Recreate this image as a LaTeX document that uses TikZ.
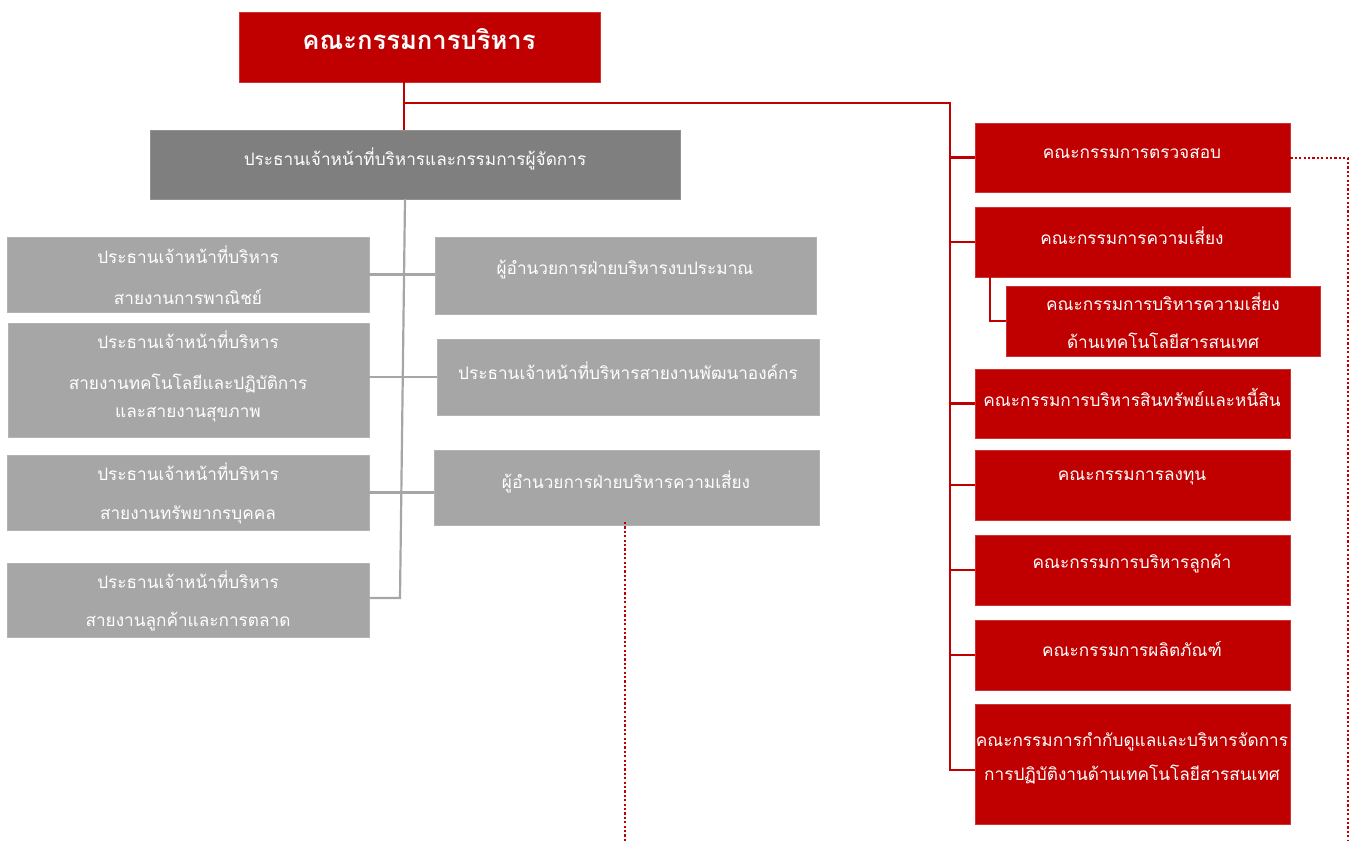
\documentclass[tikz,border=0pt]{standalone}
\usepackage{fontspec}
\newfontfamily\thai[Script=Thai]{Loma}
\usetikzlibrary{fit}
\definecolor{bred}{HTML}{C00000}
\definecolor{dgray}{HTML}{7F7F7F}
\definecolor{lgray}{HTML}{A6A6A6}
\tikzset{
  redbox/.style={fill=bred, draw=bred!80!white, line width=0.4pt, inner sep=0pt},
  dgbox/.style={fill=dgray, draw=dgray!85!white, line width=0.4pt, inner sep=0pt},
  lgbox/.style={fill=lgray, draw=lgray!85!white, line width=0.4pt, inner sep=0pt},
  txt/.style={text=white, font=\thai\fontsize{8.6}{10}\selectfont, inner sep=0pt, align=center},
  ttl/.style={text=white, font=\thai\bfseries\fontsize{12.8}{15}\selectfont, inner sep=0pt},
  redline/.style={draw=bred, line width=1.2pt},
  grayline/.style={draw=lgray, line width=1.1pt},
  dotline/.style={draw=bred, line width=1.2pt, dash pattern=on 1.1pt off 1.1pt}
}
\begin{document}
\begin{tikzpicture}[x=0.5pt,y=-0.5pt]
\useasboundingbox (0,0) rectangle (1357,841);
% boxes
\node[redbox, fit={(239,12) (600,82)}] (top) {};
\node[dgbox, fit={(150,130) (680,199)}] (ceo) {};
\node[lgbox, fit={(7,237) (369,312)}] (l1) {};
\node[lgbox, fit={(8,323) (369,437)}] (l2) {};
\node[lgbox, fit={(7,455) (369,530)}] (l3) {};
\node[lgbox, fit={(7,563) (369,637)}] (l4) {};
\node[lgbox, fit={(435,237) (816,314)}] (r1) {};
\node[lgbox, fit={(437,339) (819,415)}] (r2) {};
\node[lgbox, fit={(434,450) (819,525)}] (r3) {};
\node[redbox, fit={(975,123) (1290,192)}] (c1) {};
\node[redbox, fit={(975,207) (1290,277)}] (c2) {};
\node[redbox, fit={(1006,286) (1320,356)}] (c2b) {};
\node[redbox, fit={(975,369) (1290,438)}] (c3) {};
\node[redbox, fit={(975,450) (1290,520)}] (c4) {};
\node[redbox, fit={(975,535) (1290,605)}] (c5) {};
\node[redbox, fit={(975,620) (1290,690)}] (c6) {};
\node[redbox, fit={(975,704) (1290,824)}] (c7) {};
% texts
\node[ttl] (ttop) at (419,39) {คณะกรรมการบริหาร};
\node[txt] (tceo) at (415,159) {ประธานเจ้าหน้าที่บริหารและกรรมการผู้จัดการ};
\node[txt] (tl1a) at (188,255) {ประธานเจ้าหน้าที่บริหาร};
\node[txt] (tl1b) at (188,297) {สายงานการพาณิชย์};
\node[txt] (tl2a) at (188,340) {ประธานเจ้าหน้าที่บริหาร};
\node[txt] (tl2b) at (188,383) {สายงานทคโนโลยีและปฏิบัติการ};
\node[txt] (tl2c) at (188,415) {และสายงานสุขภาพ};
\node[txt] (tl3a) at (188,472) {ประธานเจ้าหน้าที่บริหาร};
\node[txt] (tl3b) at (188,515) {สายงานทรัพยากรบุคคล};
\node[txt] (tl4a) at (188,580) {ประธานเจ้าหน้าที่บริหาร};
\node[txt] (tl4b) at (188,622) {สายงานลูกค้าและการตลาด};
\node[txt] (tr1) at (625,270) {ผู้อำนวยการฝ่ายบริหารงบประมาณ};
\node[txt] (tr2) at (628,371) {ประธานเจ้าหน้าที่บริหารสายงานพัฒนาองค์กร};
\node[txt] (tr3) at (626,482) {ผู้อำนวยการฝ่ายบริหารความเสี่ยง};
\node[txt] (tc1) at (1132,153) {คณะกรรมการตรวจสอบ};
\node[txt] (tc2) at (1132,236) {คณะกรรมการความเสี่ยง};
\node[txt] (tc2a) at (1163,302) {คณะกรรมการบริหารความเสี่ยง};
\node[txt] (tc2b) at (1163,341) {ด้านเทคโนโลยีสารสนเทศ};
\node[txt] (tc3) at (1132,397) {คณะกรรมการบริหารสินทรัพย์และหนี้สิน};
\node[txt] (tc4) at (1132,478) {คณะกรรมการลงทุน};
\node[txt] (tc5) at (1132,564) {คณะกรรมการบริหารลูกค้า};
\node[txt] (tc6) at (1132,649) {คณะกรรมการผลิตภัณฑ์};
\node[txt] (tc7a) at (1132,742) {คณะกรรมการกำกับดูแลและบริหารจัดการ};
\node[txt] (tc7b) at (1132,774) {การปฏิบัติงานด้านเทคโนโลยีสารสนเทศ};
% red connectors
\coordinate (rt) at (404,82);
\coordinate (rj) at (404,103);
\coordinate (rc) at (950,103);
\coordinate (rb) at (950,770);
\draw[redline] (rt) -- (rt |- ceo.north);
\draw[redline] (rj) -- (rc) -- (rb) -- (rb -| c7.west);
\foreach \n in {c1,c2,c3,c4,c5,c6} {
  \draw[redline] (rc |- \n.west) -- (\n.west);
}
\coordinate (sb) at (990,277);
\draw[redline] (sb) -- (sb |- c2b.west) -- (c2b.west);
% gray connectors
\coordinate (gt) at (405,199);
\coordinate (gb) at (400,598);
\draw[grayline] (gt) -- (gb) -- (gb -| l4.east);
\draw[grayline] (l1.east) -- (l1.east -| r1.west);
\draw[grayline] (l2.east |- r2.west) -- (r2.west);
\draw[grayline] (l3.east) -- (l3.east -| r3.west);
% dotted lines
\coordinate (d1) at (625,522);
\coordinate (d1e) at (625,841);
\draw[dotline] (d1) -- (d1e);
\coordinate (d2) at (1348,158);
\coordinate (d2e) at (1348,841);
\draw[dotline] (c1.east |- d2) -- (d2) -- (d2e);
\end{tikzpicture}
\end{document}
